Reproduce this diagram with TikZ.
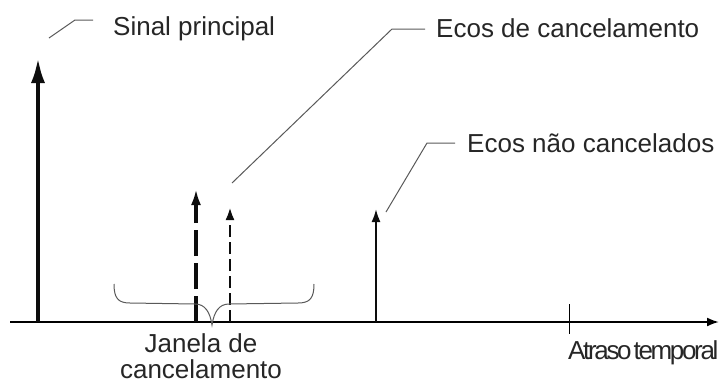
\documentclass[tikz,border=0pt]{standalone}
\usepackage{fontspec}
\setmainfont{Liberation Sans}
\usetikzlibrary{arrows.meta, positioning}

\tikzset{
  lbl/.style={font=\fontsize{26}{26}\selectfont, text=black!85, inner sep=0pt},
  leader/.style={draw=black!65, line width=1pt},
  pulse/.style={draw=black!95, line width=2pt, -{Latex[length=13pt, width=9pt]}},
}

\begin{document}
\begin{tikzpicture}[x={(1pt,0pt)}, y={(0pt,-1pt)}]
  \useasboundingbox (0,0) rectangle (720,383);

  % eixo
  \coordinate (o) at (10,322);
  \coordinate (fim) at (719,322);
  \draw[line width=2pt, -{Latex[length=12pt, width=9pt]}] (o) -- (fim);
  \coordinate (marcaA) at (569,304);
  \coordinate (marcaB) at (569,334);
  \draw[line width=1pt] (marcaA) -- (marcaB);

  % pulsos
  \coordinate (p0) at (38,322);   \coordinate (t0) at (38,57);
  \coordinate (p1) at (196,322);  \coordinate (t1) at (196,189);
  \coordinate (p2) at (230,322);  \coordinate (t2) at (230,207);
  \coordinate (p3) at (376,322);  \coordinate (t3) at (376,209);
  \draw[pulse, line width=4.5pt, -{Latex[length=26pt, width=14pt]}] (p0) -- (t0);
  \draw[pulse, line width=3.5pt, dash pattern=on 26pt off 7pt,
        -{Latex[length=16pt, width=10pt]}] (p1) -- (t1);
  \draw[pulse, line width=2.5pt, dash pattern=on 12pt off 5pt] (p2) -- (t2);
  \draw[pulse] (p3) -- (t3);

  % chave
  \draw[leader] (114,284) .. controls (114,298) and (118,303) .. (130,303)
    -- (195,304) .. controls (205,304) and (210,312) .. (212,325)
    .. controls (214,312) and (219,304) .. (229,304)
    -- (298,303) .. controls (310,303) and (314,298) .. (314,284);

  % textos
  \node[lbl, anchor=base west] (sinal) at (113,35) {Sinal principal};
  \node[lbl, anchor=base west] (cancel) at (436,37) {Ecos de cancelamento};
  \node[lbl, anchor=base west] (naocancel) at (467,152) {Ecos não cancelados};
  \node[lbl, align=center] (janela) at (201,356) {Janela de\\cancelamento};
  \node[lbl, anchor=base west] (atraso) at (568,359)
    {\addfontfeature{LetterSpace=-9}\spaceskip=2pt Atraso temporal};

  % linhas de chamada
  \coordinate (s1) at (49,38);  \coordinate (s2) at (75,20);  \coordinate (s3) at (93,20);
  \coordinate (c1) at (232,183); \coordinate (c2) at (392,29); \coordinate (c3) at (425,29);
  \coordinate (n1) at (386,212); \coordinate (n2) at (427,143); \coordinate (n3) at (455,143);
  \draw[leader] (s1) -- (s2) -- (s3);
  \draw[leader] (c1) -- (c2) -- (c3);
  \draw[leader] (n1) -- (n2) -- (n3);
\end{tikzpicture}
\end{document}
